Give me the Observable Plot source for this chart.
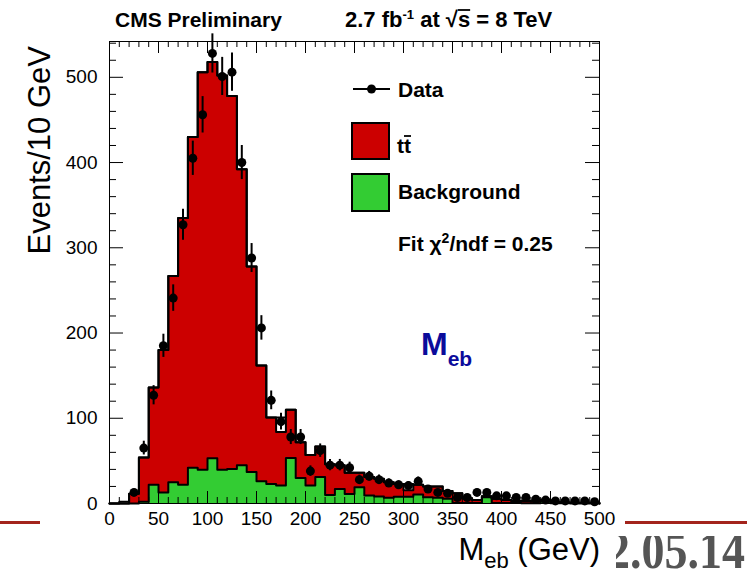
<!DOCTYPE html>
<html><head><meta charset="utf-8">
<script src="https://cdn.jsdelivr.net/npm/d3@7"></script>
<script src="https://cdn.jsdelivr.net/npm/@observablehq/plot@0.6"></script>
<style>
body{margin:0;background:#fff;}
#wrap{position:relative;width:747px;height:573px;overflow:hidden;background:#fff;font-family:"Liberation Sans",Arial,sans-serif;}
#wrap svg{position:absolute;left:0;top:0;}
.deco{position:absolute;background:#a3241c;height:3px;}
#date{position:absolute;left:616px;top:536px;width:131px;height:37px;overflow:hidden;}
#date span{position:absolute;left:-9px;top:0;font-family:"Liberation Serif","Times New Roman",serif;font-weight:bold;font-size:46px;color:#555;line-height:34px;transform:scaleY(1.15);transform-origin:50% 100%;white-space:nowrap;}
</style></head><body><div id="wrap"></div>
<script>
// bin lower edges (GeV), 10 GeV bins
const binLow = [0,10,20,30,40,50,60,70,80,90,100,110,120,130,140,150,160,170,180,190,200,210,220,230,240,250,260,270,280,290,300,310,320,330,340,350,360,370,380,390,400,410,420,430,440,450,460,470,480,490];
// background (green) stack height
const background = [0,0,0,2,22,13,25,22,42,39.5,53,39.5,40.5,45,37,26,23,21,53.5,30,21,31,10,17,11,19,9.4,8.2,6.6,8,8,10.5,7.4,6.6,5.5,0.5,0.5,0.5,7.4,0.5,0.5,0.5,0.3,0.3,3.9,0.2,0.2,0.1,0.1,0.1];
// ttbar + background stack top (red)
const stackTop = [0,0,11.3,54,136,180,267,335,430,506,518,502,478,392,278,162,101,84,110,72,57,67,46,45,36,36,31,29,25,23,15.6,22,20,20,14.7,12,5.8,4,8.5,5.5,4,3,3,2.5,4.5,1.5,1.2,1,0.8,0.5];
// outermost outline (white filled)
const outlineTop = [0,2,11.3,54,136,180,267,335,430,506,518,502,478,392,278,162,101,101,110,72,57,67,46,45,36,36,31,29,25,23,23,22,20,20,14.7,12,5.8,4,8.5,5.5,4,3,3,2.5,4.5,1.5,1.2,1,0.8,0.5];
// data counts
const dataCounts = [null,null,13,65,127,185,241,327,405,456,528,501,506,400,288,206,121,96,78,78,38,62,45,45,42,28,32,28,24,22,21,26,17,13,12,7,7,13,13,9,9,7,7,5,4,3,3,3,3,2];
const yTicks = [0,100,200,300,400,500];
const xTicks = [0,50,100,150,200,250,300,350,400,450,500];

const W = 747, H = 573, mL = 109, mR = 148, mT = 41, mB = 70;
const fw = W - mL - mR, fh = H - mT - mB;
const bins = binLow.map((x, i) => ({x1: x, x2: x + 10, xc: x + 5, bkg: background[i], top: stackTop[i], outline: outlineTop[i], n: dataCounts[i]}));
const pts = bins.filter(d => d.n != null);
function steps(key) {
  const s = [{x: 0, y: 0}];
  bins.forEach(b => s.push({x: b.x1, y: b[key]}));
  s.push({x: 500, y: bins[bins.length - 1][key]});
  s.push({x: 500, y: 0});
  return s;
}
const yMinor = []; for (let v = 20; v <= 540; v += 20) if (v % 100) yMinor.push(v);
const xMinor = []; for (let v = 10; v < 500; v += 10) if (v % 50) xMinor.push(v);

const chart = Plot.plot({
  width: W, height: H, marginLeft: mL, marginRight: mR, marginTop: mT, marginBottom: mB,
  x: {domain: [0, 500]}, y: {domain: [0, 542]},
  style: {fontFamily: "'Liberation Sans', Arial, sans-serif", fontSize: "19px", color: "black", background: "transparent", overflow: "visible"},
  marks: [
    Plot.rectY(bins, {x1: "x1", x2: "x2", y: "outline", fill: "white", shapeRendering: "crispEdges"}),
    Plot.rectY(bins, {x1: "x1", x2: "x2", y: "top", fill: "#cc0000", shapeRendering: "crispEdges"}),
    Plot.rectY(bins, {x1: "x1", x2: "x2", y: "bkg", fill: "#33cc33", shapeRendering: "crispEdges"}),
    Plot.line(steps("outline"), {x: "x", y: "y", curve: "step-after", stroke: "black", strokeWidth: 2}),
    Plot.line(steps("top"), {x: "x", y: "y", curve: "step-after", stroke: "black", strokeWidth: 2}),
    Plot.line(steps("bkg"), {x: "x", y: "y", curve: "step-after", stroke: "black", strokeWidth: 2}),
    Plot.ruleX(pts, {x: "xc", y1: d => d.n - Math.sqrt(d.n), y2: d => d.n + Math.sqrt(d.n), stroke: "black", strokeWidth: 2}),
    Plot.dot(pts, {x: "xc", y: "n", r: 4.5, fill: "black", stroke: "none"}),
    Plot.ruleY(yTicks, {insetRight: fw - 14, stroke: "black"}),
    Plot.ruleY(yMinor, {insetRight: fw - 7, stroke: "black"}),
    Plot.ruleY(yTicks, {insetLeft: fw - 14, stroke: "black"}),
    Plot.ruleY(yMinor, {insetLeft: fw - 7, stroke: "black"}),
    Plot.ruleX(xTicks, {insetBottom: fh - 12, stroke: "black"}),
    Plot.ruleX(xMinor, {insetBottom: fh - 6, stroke: "black"}),
    Plot.ruleX(xTicks, {insetTop: fh - 12, stroke: "black"}),
    Plot.ruleX(xMinor, {insetTop: fh - 6, stroke: "black"}),
    Plot.frame({stroke: "black"}),
    Plot.axisY({ticks: yTicks, tickSize: 0, tickPadding: 12, fontSize: 19, label: null}),
    Plot.axisX({ticks: xTicks, tickSize: 0, tickPadding: 8, fontSize: 19, label: null})
  ]
});
const wrap = document.getElementById("wrap");
wrap.appendChild(chart);

const ns = "http://www.w3.org/2000/svg";
const ov = document.createElementNS(ns, "svg");
ov.setAttribute("width", W); ov.setAttribute("height", H);
ov.style.fontFamily = "'Liberation Sans', Arial, sans-serif";
ov.innerHTML = `
<text x="115" y="27" font-size="21" font-weight="bold">CMS Preliminary</text>
<text id="hdr2" x="345" y="27" font-size="22" font-weight="bold">2.7 fb<tspan dy="-8" font-size="13">-1</tspan><tspan dy="8"> at √s = 8 TeV</tspan></text>
<text transform="translate(50,46) rotate(-90)" text-anchor="end" font-size="31">Events/10 GeV</text>
<text x="600" y="560" text-anchor="end" font-size="31">M<tspan dy="8" font-size="22">eb</tspan><tspan dy="-8"> (GeV)</tspan></text>
<text x="421" y="355" font-size="32" font-weight="bold" fill="#0b0b9b">M<tspan dy="11" font-size="21">eb</tspan></text>
<line x1="353" x2="390" y1="89" y2="89" stroke="black" stroke-width="2"/>
<circle cx="371.5" cy="89" r="4.5" fill="black"/>
<text x="398" y="97" font-size="21" font-weight="bold">Data</text>
<rect x="352" y="123" width="37" height="36" fill="#cc0000" stroke="black" stroke-width="2"/>
<text id="tt" x="397" y="153" font-size="21" font-weight="bold">tt</text>
<rect x="352" y="174" width="37" height="37" fill="#33cc33" stroke="black" stroke-width="2"/>
<text x="398" y="199" font-size="21" font-weight="bold">Background</text>
<text x="398" y="251" font-size="21" font-weight="bold">Fit χ<tspan dy="-8" font-size="14">2</tspan><tspan dy="8">/ndf = 0.25</tspan></text>
`;
wrap.appendChild(ov);
function overline(id, idx, y) {
  const t = ov.querySelector("#" + id);
  const e = t.getExtentOfChar(idx);
  const l = document.createElementNS(ns, "line");
  l.setAttribute("x1", e.x); l.setAttribute("x2", e.x + e.width);
  l.setAttribute("y1", y); l.setAttribute("y2", y);
  l.setAttribute("stroke", "black"); l.setAttribute("stroke-width", "1.8");
  ov.appendChild(l);
}
overline("hdr2", 13, 10);
overline("tt", 1, 136);

const d1 = document.createElement("div"); d1.className = "deco"; d1.style.left = "0px"; d1.style.width = "40px"; d1.style.top = "521px"; wrap.appendChild(d1);
const d2 = document.createElement("div"); d2.className = "deco"; d2.style.left = "625px"; d2.style.width = "122px"; d2.style.top = "521px"; wrap.appendChild(d2);
const dt = document.createElement("div"); dt.id = "date"; dt.innerHTML = "<span>2.05.14</span>"; wrap.appendChild(dt);
</script></body></html>
